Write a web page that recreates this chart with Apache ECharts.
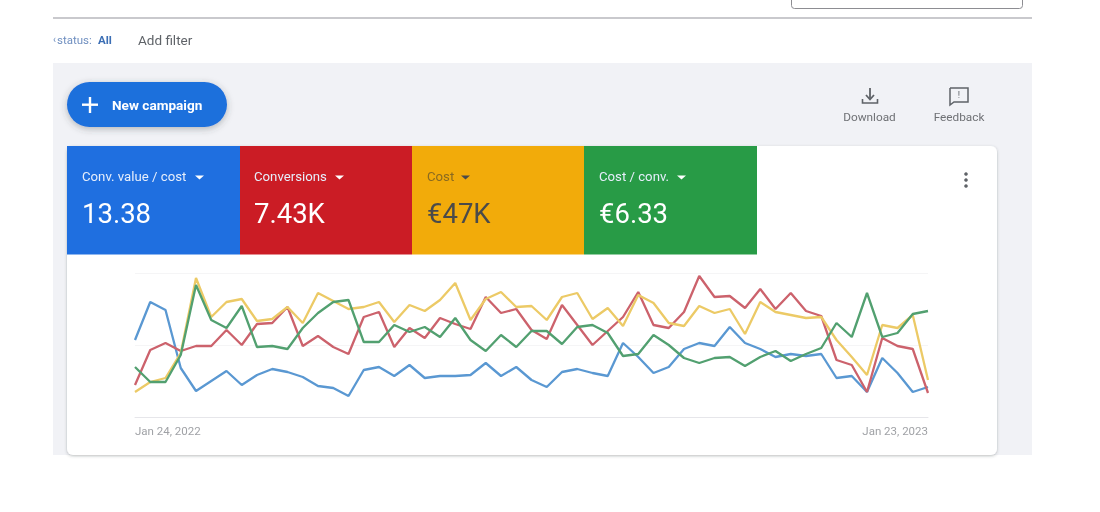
<!DOCTYPE html>
<html>
<head>
<meta charset="utf-8">
<style>
  html, body { margin: 0; padding: 0; background: #fff; }
  #overview-chart { width: 1100px; height: 512px; filter: blur(0.5px); }
</style>
<script src="https://cdn.jsdelivr.net/npm/echarts@6/dist/echarts.min.js"></script>
</head>
<body>
<div id="overview-chart"></div>
<script>
const weeks = [
  "Jan 24, 2022", "Jan 31, 2022", "Feb 7, 2022", "Feb 14, 2022", "Feb 21, 2022", "Feb 28, 2022",
  "Mar 7, 2022", "Mar 14, 2022", "Mar 21, 2022", "Mar 28, 2022", "Apr 4, 2022", "Apr 11, 2022",
  "Apr 18, 2022", "Apr 25, 2022", "May 2, 2022", "May 9, 2022", "May 16, 2022", "May 23, 2022",
  "May 30, 2022", "Jun 6, 2022", "Jun 13, 2022", "Jun 20, 2022", "Jun 27, 2022", "Jul 4, 2022",
  "Jul 11, 2022", "Jul 18, 2022", "Jul 25, 2022", "Aug 1, 2022", "Aug 8, 2022", "Aug 15, 2022",
  "Aug 22, 2022", "Aug 29, 2022", "Sep 5, 2022", "Sep 12, 2022", "Sep 19, 2022", "Sep 26, 2022",
  "Oct 3, 2022", "Oct 10, 2022", "Oct 17, 2022", "Oct 24, 2022", "Oct 31, 2022", "Nov 7, 2022",
  "Nov 14, 2022", "Nov 21, 2022", "Nov 28, 2022", "Dec 5, 2022", "Dec 12, 2022", "Dec 19, 2022",
  "Dec 26, 2022", "Jan 2, 2023", "Jan 9, 2023", "Jan 16, 2023", "Jan 23, 2023"
];

// the chart has no value axis labels, so these are heights read off the plot (0 = baseline)
const convValueCost = [
  77, 115, 107, 49, 26, 36, 46, 32, 42, 48, 45, 40, 31, 29, 21, 47, 50, 41,
  52, 39, 41, 41, 42, 54, 41, 50, 37, 30, 45, 48, 44, 41, 74, 60, 44, 50,
  68, 74, 71, 90, 74, 68, 60, 63, 61, 63, 39, 41, 25, 59, 44, 25, 30
];
const conversions = [
  32, 67, 74, 66, 71, 71, 87, 72, 93, 94, 110, 71, 81, 70, 63, 100, 105, 70,
  89, 79, 99, 93, 88, 120, 104, 108, 87, 78, 112, 92, 72, 86, 100, 125, 92, 89,
  105, 141, 120, 121, 109, 128, 108, 124, 106, 101, 57, 52, 25, 79, 71, 68, 24
];
const cost = [
  25, 35, 39, 64, 139, 100, 115, 118, 96, 98, 110, 94, 124, 116, 108, 110, 115, 95,
  112, 106, 117, 134, 97, 118, 125, 110, 111, 97, 120, 124, 98, 109, 91, 122, 114, 94,
  91, 111, 104, 108, 83, 115, 105, 102, 99, 100, 77, 60, 42, 92, 89, 102, 37
];
const costPerConv = [
  50, 35, 35, 62, 132, 97, 89, 111, 70, 71, 68, 89, 104, 115, 117, 75, 75, 92,
  85, 90, 80, 99, 77, 66, 82, 70, 86, 86, 73, 90, 92, 84, 61, 63, 82, 72,
  59, 54, 59, 60, 51, 60, 66, 56, 63, 69, 94, 80, 124, 80, 84, 103, 106
];

const metricNames = ["Conv. value / cost", "Conversions", "Cost", "Cost / conv."];
const metricValues = ["13.38", "7.43K", "€47K", "€6.33"];
const tileColors = ["#1f6fe0", "#cb1c25", "#f2ab0a", "#289b46"];
const tileText = ["#ffffff", "#ffffff", "#4a4a4a", "#ffffff"];
const lineColors = ["#5a98d2", "#cc626c", "#ecca66", "#52a070"];

const uiFont = "Roboto";
const chart = echarts.init(document.getElementById("overview-chart"), null, {renderer: "svg"});

function box(x, y, w, h, fill, r, extra) {
  return Object.assign({
    type: "rect", z: 1,
    shape: {x: x, y: y, width: w, height: h, r: r || 0},
    style: {fill: fill}
  }, extra || {});
}

function label(text, x, y, size, fill, extra) {
  return {
    type: "text", z: 5, x: x, y: y,
    style: Object.assign({
      text: text, fontFamily: uiFont, fontSize: size, fill: fill,
      verticalAlign: "middle"
    }, extra || {})
  };
}

function stroke(points, color, width) {
  return {
    type: "polyline", z: 5,
    shape: {points: points},
    style: {stroke: color, lineWidth: width, fill: null}
  };
}

function caret(x, y, color) {
  return {
    type: "polygon", z: 5,
    shape: {points: [[x, y], [x + 9, y], [x + 4.5, y + 4]]},
    style: {fill: color}
  };
}

const caretX = [195, 335, 461, 677];
const tileX = [67, 240, 412, 584];
const tileW = [173, 172, 172, 173];
const textX = [82, 254, 427, 599];

const elements = [
  box(53, 17, 979, 2, "#c9c9cd"),
  {type: "rect", z: 1, shape: {x: 791.5, y: -8, width: 231, height: 16.5, r: 3},
    style: {fill: "#fff", stroke: "#8d8d92", lineWidth: 1}},
  label("‹", 53, 39.5, 10, "#6f8fc0"),
  label("status:", 57, 39.5, 11.5, "#6f8fc0"),
  label("All", 98, 39.5, 11.5, "#3c6fb5", {fontWeight: "bold"}),
  label("Add filter", 138, 39.5, 13.5, "#5f6368"),

  box(53, 63, 979, 392, "#f1f2f6"),
  box(67, 82, 160, 45, "#1e6fdc", 22.5, {
    style: {fill: "#1e6fdc", shadowBlur: 7, shadowColor: "rgba(60,64,67,0.35)", shadowOffsetY: 2}
  }),
  box(82, 103.5, 16, 2.4, "#ffffff", 0, {z: 5}),
  box(88.8, 97, 2.4, 16, "#ffffff", 0, {z: 5}),
  label("New campaign", 112, 104.5, 13.6, "#ffffff", {fontWeight: "bold"}),

  stroke([[870, 88], [870, 99]], "#5f6368", 1.8),
  stroke([[866, 95], [870, 99.5], [874, 95]], "#5f6368", 1.8),
  stroke([[862.5, 99], [862.5, 103], [877.5, 103], [877.5, 99]], "#5f6368", 1.6),
  label("Download", 869.5, 117, 11.8, "#6f7175", {align: "center"}),
  stroke([[950, 88], [968, 88], [968, 102], [954, 102], [950, 105], [950, 88]], "#5f6368", 1.5),
  label("!", 959, 95, 9, "#5f6368", {align: "center"}),
  label("Feedback", 959, 117, 11.8, "#6f7175", {align: "center"}),

  box(67, 146, 930, 309, "#ffffff", 6, {
    style: {fill: "#fff", shadowBlur: 3, shadowColor: "rgba(60,64,67,0.35)", shadowOffsetY: 1}
  }),
  {type: "circle", z: 5, shape: {cx: 966, cy: 174, r: 1.8}, style: {fill: "#5f6368"}},
  {type: "circle", z: 5, shape: {cx: 966, cy: 180, r: 1.8}, style: {fill: "#5f6368"}},
  {type: "circle", z: 5, shape: {cx: 966, cy: 186, r: 1.8}, style: {fill: "#5f6368"}}
];

metricNames.forEach(function (name, i) {
  elements.push(box(tileX[i], 146, tileW[i], 108.5, tileColors[i], 0, {z: 2}));
  elements.push(label(name, textX[i], 176.5, 13.2, i === 2 ? "#8a6a20" : "#e6eefb"));
  elements.push(caret(caretX[i], 175.5, i === 2 ? "#4a4a4a" : "#ffffff"));
  elements.push(label(metricValues[i], textX[i], 213.5, 27.5, tileText[i]));
});

const seriesData = [convValueCost, conversions, cost, costPerConv];

const option = {
  animation: false,
  backgroundColor: "#ffffff",
  textStyle: {fontFamily: uiFont},
  graphic: {elements: elements},
  grid: {left: 135, right: 172, top: 273, bottom: 95},
  xAxis: {
    type: "category",
    z: 3,
    boundaryGap: false,
    data: weeks,
    axisTick: {show: false},
    axisLine: {lineStyle: {color: "#e6e6ea", width: 1}},
    axisLabel: {
      color: "#a0a2a6",
      fontSize: 11.5,
      margin: 8,
      alignMinLabel: "left",
      alignMaxLabel: "right",
      interval: function (index) { return index === 0 || index === weeks.length - 1; }
    }
  },
  yAxis: {
    type: "value",
    z: 3,
    min: 0,
    max: 144,
    interval: 72,
    axisLabel: {show: false},
    axisLine: {show: false},
    axisTick: {show: false},
    splitLine: {lineStyle: {color: "#f5f5f6", width: 1}}
  },
  series: seriesData.map(function (values, i) {
    return {
      name: metricNames[i],
      type: "line",
      z: 4 + i,
      data: values,
      symbol: "none",
      lineStyle: {color: lineColors[i], width: 2.3}
    };
  })
};

chart.setOption(option);
</script>
</body>
</html>
